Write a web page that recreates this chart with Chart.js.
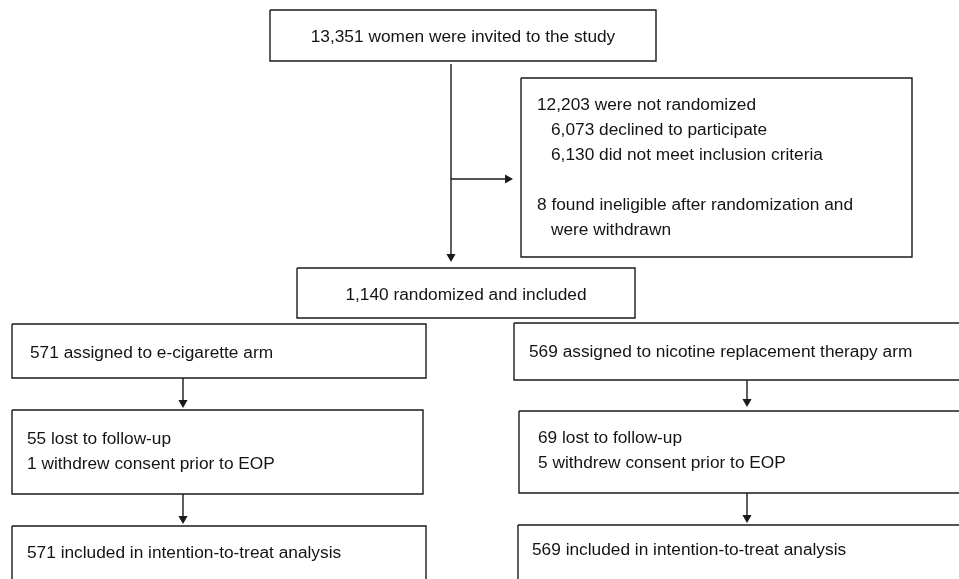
<!DOCTYPE html>
<html>
<head>
<meta charset="utf-8">
<script src="https://cdn.jsdelivr.net/npm/chart.js@4.4.1/dist/chart.umd.min.js"></script>
<style>
  html, body { margin: 0; padding: 0; background: #ffffff; }
  #wrap { width: 959px; height: 579px; position: relative; }
</style>
</head>
<body>
<div id="wrap"><canvas id="c" width="959" height="579"></canvas></div>
<script>
// ---- flow content (text) ----
const nodeIds = ['invited', 'excluded', 'randomized', 'ecigArm', 'ecigLost', 'ecigITT', 'nrtArm', 'nrtLost', 'nrtITT'];
const invitedLines = ['13,351 women were invited to the study'];
const excludedLines = ['12,203 were not randomized', '6,073 declined to participate', '6,130 did not meet inclusion criteria', '', '8 found ineligible after randomization and', 'were withdrawn'];
const excludedIndent = [0, 1, 1, 0, 0, 1];
const randomizedLines = ['1,140 randomized and included'];
const ecigArmLines = ['571 assigned to e-cigarette arm'];
const ecigLostLines = ['55 lost to follow-up', '1 withdrew consent prior to EOP'];
const ecigITTLines = ['571 included in intention-to-treat analysis'];
const nrtArmLines = ['569 assigned to nicotine replacement therapy arm'];
const nrtLostLines = ['69 lost to follow-up', '5 withdrew consent prior to EOP'];
const nrtITTLines = ['569 included in intention-to-treat analysis'];

// ---- layout (diagram coordinates, separate from content) ----
// [x0, y0, x1, y1, textX, firstLineY, align]
const layout = {
  invited:    [270, 10, 656, 61, 463, 37, 'center'],
  excluded:   [521, 78, 912, 257, 537, 105, 'left'],
  randomized: [297, 268, 635, 318, 466, 295, 'center'],
  ecigArm:    [12, 324, 426, 378, 30, 353, 'left'],
  ecigLost:   [12, 410, 423, 494, 27, 439, 'left'],
  ecigITT:    [12, 526, 426, 610, 27, 553, 'left'],
  nrtArm:     [514, 323, 985, 380, 529, 352, 'left'],
  nrtLost:    [519, 411, 985, 493, 538, 438, 'left'],
  nrtITT:     [518, 525, 985, 610, 532, 550, 'left']
};
const nodeLines = {
  invited: invitedLines, excluded: excludedLines, randomized: randomizedLines,
  ecigArm: ecigArmLines, ecigLost: ecigLostLines, ecigITT: ecigITTLines,
  nrtArm: nrtArmLines, nrtLost: nrtLostLines, nrtITT: nrtITTLines
};
const nodeIndent = { excluded: excludedIndent };
// connectors: [x0, y0, x1, y1] ending at arrow tip
const connectors = [
  [451, 64, 451, 262],
  [451, 179, 513, 179],
  [183, 378, 183, 408],
  [183, 494, 183, 524],
  [747, 380, 747, 407],
  [747, 493, 747, 523]
];

const LINE_COLOR = '#1a1a1a';
const TEXT_COLOR = '#141414';
const FONT = '17.3px "Liberation Sans", Arial, Helvetica, sans-serif';
const LINE_GAP = 25;
const INDENT = 14;
const ARROW_R = 5.3;

// ---- build datasets ----
const datasets = [];
nodeIds.forEach(id => {
  const b = layout[id];
  datasets.push({
    type: 'line',
    label: id,
    data: [{x: b[0], y: b[1]}, {x: b[2], y: b[1]}, {x: b[2], y: b[3]}, {x: b[0], y: b[3]}, {x: b[0], y: b[1]}],
    borderColor: LINE_COLOR, borderWidth: 1.4, pointRadius: 0, fill: false, tension: 0,
    borderJoinStyle: 'miter', clip: false
  });
});
connectors.forEach((c, i) => {
  const horiz = c[1] === c[3];
  const hx = horiz ? c[2] - ARROW_R : c[2];
  const hy = horiz ? c[3] : c[3] - ARROW_R;
  datasets.push({
    type: 'line',
    label: 'conn' + i,
    data: [{x: c[0], y: c[1]}, {x: hx, y: hy}],
    borderColor: LINE_COLOR, borderWidth: 1.4, pointRadius: 0, fill: false, clip: false
  });
  datasets.push({
    type: 'scatter',
    label: 'head' + i,
    data: [{x: hx, y: hy}],
    pointStyle: 'triangle', pointRadius: ARROW_R, pointRotation: horiz ? 90 : 180,
    backgroundColor: LINE_COLOR, borderColor: LINE_COLOR, borderWidth: 0, clip: false
  });
});

const textPlugin = {
  id: 'boxText',
  afterDatasetsDraw(chart) {
    const ctx = chart.ctx;
    const xs = chart.scales.x, ys = chart.scales.y;
    ctx.save();
    ctx.fillStyle = TEXT_COLOR;
    ctx.font = FONT;
    ctx.textBaseline = 'middle';
    nodeIds.forEach(id => {
      const b = layout[id];
      const lines = nodeLines[id];
      const ind = nodeIndent[id] || [];
      ctx.textAlign = b[6];
      lines.forEach((t, k) => {
        if (!t) return;
        const px = xs.getPixelForValue(b[4] + (ind[k] ? INDENT : 0));
        const py = ys.getPixelForValue(b[5] + k * LINE_GAP);
        ctx.fillText(t, px, py);
      });
    });
    ctx.restore();
  }
};

new Chart(document.getElementById('c'), {
  data: { datasets },
  options: {
    responsive: false,
    animation: false,
    layout: { padding: 0, autoPadding: false },
    plugins: { legend: { display: false }, tooltip: { enabled: false }, title: { display: false } },
    scales: {
      x: { type: 'linear', min: 0, max: 959, display: false },
      y: { type: 'linear', min: 0, max: 579, reverse: true, display: false }
    },
    events: []
  },
  plugins: [textPlugin]
});
</script>
</body>
</html>
